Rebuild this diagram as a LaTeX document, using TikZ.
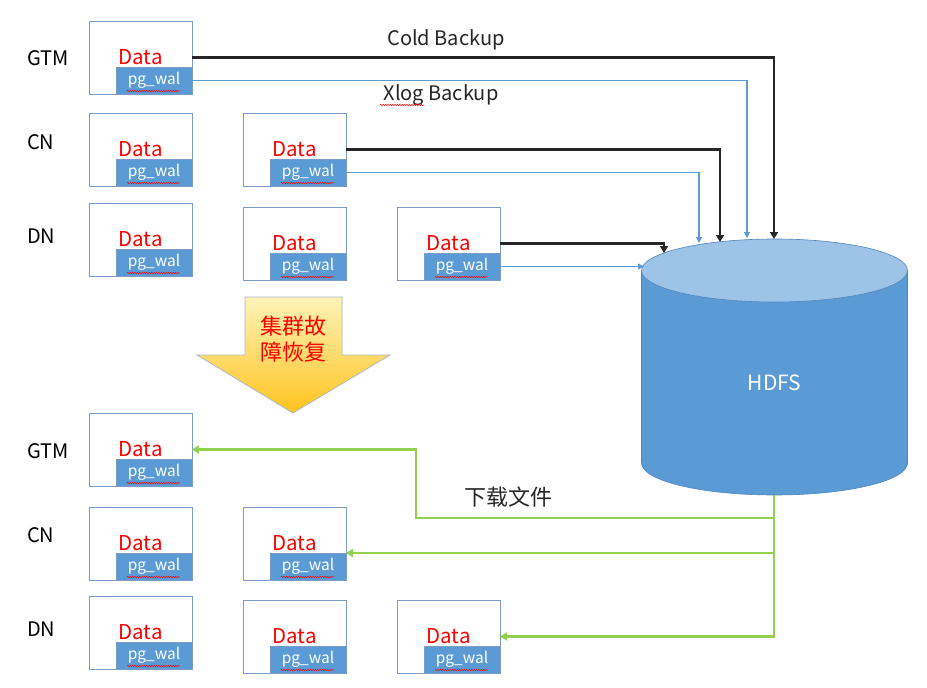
\documentclass[tikz,border=0pt]{standalone}
\usepackage{fontspec}
\setmainfont{Noto Sans CJK SC}
\usetikzlibrary{arrows.meta,decorations.pathmorphing,calc}
\definecolor{boxedge}{HTML}{7A9CC6}
\definecolor{walblue}{HTML}{5B9BD5}
\definecolor{linkblue}{HTML}{5B9BD5}
\definecolor{lightcyl}{HTML}{9DC3E6}
\definecolor{cylbody}{HTML}{5B9BD5}
\definecolor{cyledge}{HTML}{4F86BE}
\definecolor{dlgreen}{HTML}{92D050}
\definecolor{arrtop}{HTML}{FFF3B8}
\definecolor{arrbot}{HTML}{FFC31F}
\definecolor{arredge}{HTML}{A9B8C8}
\definecolor{txtgray}{HTML}{262626}
\tikzset{
 srvbox/.style={draw=boxedge, line width=1pt, fill=white, minimum width=103pt, minimum height=73pt, inner sep=0pt, outer sep=0pt},
 walbox/.style={draw=boxedge, line width=0.8pt, fill=walblue, text=white, minimum width=76pt, minimum height=27pt, inner sep=0pt, outer sep=0pt, font=\fontsize{15.5}{18}\selectfont},
 datatext/.style={text=red, font=\fontsize{20.5}{24}\selectfont, inner sep=0pt, anchor=base},
 rolelabel/.style={font=\fontsize{20}{24}\selectfont, anchor=west, inner sep=0pt, text=black},
 squig/.style={draw=red, line width=0.5pt, decorate, decoration={snake, amplitude=0.7pt, segment length=2.4pt}},
 blkarrow/.style={draw=black!85, line width=2.2pt, -{Triangle[width=8pt,length=7pt]}},
 bluarrow/.style={draw=linkblue, line width=1.1pt, -{Triangle[width=6pt,length=6pt]}},
 grnarrow/.style={draw=dlgreen, line width=2.5pt, -{Triangle[width=8pt,length=7pt]}},
 plaintext/.style={font=\fontsize{20}{24}\selectfont, text=txtgray, inner sep=0pt},
}
\newcommand\dbbox[3]{%
  \node[srvbox, anchor=north west] (#1) at (#2,#3) {};
  \node[walbox, anchor=south east] (#1w) at (#1.south east) {pg\_wal};
  \node[datatext] (#1d) at ($(#1.north west)+(51.5,43)$) {Data};
  \draw[squig] ($(#1w.south west)+(11,-3)$) -- ($(#1w.south east)+(-12,-3)$);
}
\begin{document}
\begin{tikzpicture}[x=1pt,y=-1pt]
\useasboundingbox (0,0) rectangle (927,688);
\fill[white] (0,0) rectangle (927,688);

% cylinder
\fill[cylbody, draw=cyledge, line width=0.6pt] (641.5,270.5) -- (641.5,463) arc[start angle=180, end angle=0, x radius=133, y radius=32] -- (907.5,270.5) -- cycle;
\draw[fill=lightcyl, draw=cyledge, line width=0.6pt] (774.5,270.5) ellipse[x radius=133, y radius=31.5];
\node[font=\fontsize{21}{24}\selectfont, text=white] (hdfs) at (774.5,383) {HDFS};

% role labels
\node[rolelabel] (lgtm) at (27,58) {GTM};
\node[rolelabel] (lcn) at (27,142) {CN};
\node[rolelabel] (ldn) at (27,236) {DN};
\node[rolelabel] (lgtmb) at (27,451) {GTM};
\node[rolelabel] (lcnb) at (27,535) {CN};
\node[rolelabel] (ldnb) at (27,629) {DN};

% top servers
\dbbox{g1}{89}{21}
\dbbox{c1}{89}{113}
\dbbox{c2}{243}{113}
\dbbox{d1}{89}{203}
\dbbox{d2}{243}{207}
\dbbox{d3}{397}{207}
% bottom servers
\dbbox{G1}{89}{413}
\dbbox{C1}{89}{507}
\dbbox{C2}{243}{507}
\dbbox{D1}{89}{596}
\dbbox{D2}{243}{600}
\dbbox{D3}{397}{600}

% targets on cylinder
\coordinate (tcold) at (774,239);
\coordinate (txlog) at (747,238);
\coordinate (tc2d) at (720,242);
\coordinate (tc2w) at (699,243);
\coordinate (td3d) at (664,253);
\coordinate (td3w) at (644,266.5);

\draw[blkarrow] (g1.east) -| (tcold);
\draw[bluarrow] (g1w.east) -| (txlog);
\draw[blkarrow] (c2.east) -| (tc2d);
\draw[bluarrow] (c2w.east) -| (tc2w);
\draw[blkarrow] (d3.east) -| (td3d);
\draw[bluarrow] (d3w.east) -- (td3w);

\node[plaintext] (cold) at (446,40) {Cold Backup};
\node[plaintext] (xlog) at (441,95) {Xlog Backup};
\draw[squig] (380,105) -- (424,105);

% recovery arrow
\shade[top color=arrtop, bottom color=arrbot, draw=arredge, line width=0.8pt]
  (245,297) -- (342,297) -- (342,355) -- (390,355) -- (293,413) -- (197,355) -- (245,355) -- cycle;
\node[font=\fontsize{22}{26}\selectfont, text=red, align=center, inner sep=0pt] (rec) at (293,339) {集群故\\障恢复};

% download lines
\coordinate (hb) at (774,495);
\coordinate (gj1) at (774,518);
\coordinate (gj2) at (774,553);
\coordinate (gbend) at (416,518);
\draw[grnarrow] (hb) |- (D3.east);
\draw[grnarrow] (gj2) -- (C2w.north east);
\draw[grnarrow] (gj1) -- (gbend) |- (G1.east);
\node[font=\fontsize{22}{26}\selectfont, text=txtgray, inner sep=0pt] (dl) at (508,497) {下载文件};
\end{tikzpicture}
\end{document}
